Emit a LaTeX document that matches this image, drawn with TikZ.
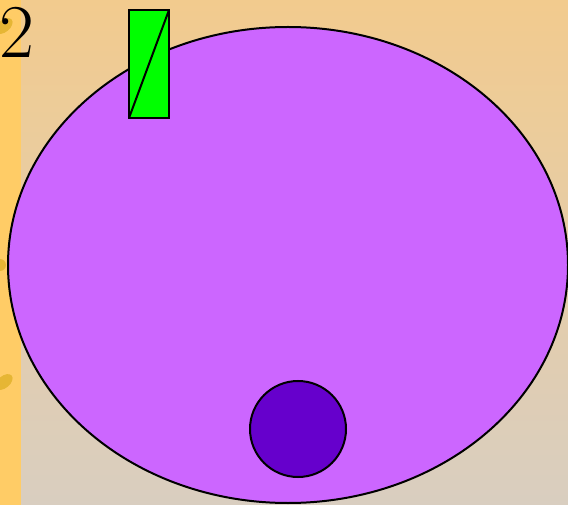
\documentclass[tikz,border=0pt]{standalone}
\usepackage{tikz}
\definecolor{bgtop}{RGB}{242,203,142}
\definecolor{bgbot}{RGB}{217,206,192}
\definecolor{strip}{RGB}{255,204,102}
\definecolor{blob}{RGB}{230,182,52}
\definecolor{cell}{RGB}{204,102,255}
\definecolor{nucleus}{RGB}{102,0,204}
\begin{document}
\begin{tikzpicture}[x=1pt,y=-1pt,outline/.style={draw=black,line width=2pt}]
\useasboundingbox (0,0) rectangle (568,505);
\shade[top color=bgtop,bottom color=bgbot] (0,0) rectangle (568,505);
\fill[strip] (0,0) rectangle (21,505);

\fill[blob,rotate around={40:(4,26)}] (4,26) ellipse (10 and 6);
\fill[blob] (0,265) circle (6);
\fill[blob,rotate around={40:(4,382)}] (4,382) ellipse (10 and 6);

\node[anchor=base east,inner sep=0pt,font=\fontsize{76}{76}\selectfont] (num) at (35,58) {2};

\draw[outline,fill=cell] (288,265) ellipse (280 and 238);
\draw[outline,fill=nucleus] (298,429) circle (48);

\draw[outline,fill=green] (129,10) rectangle (169,118);
\draw[outline] (129,118) -- (169,10);
\end{tikzpicture}
\end{document}
